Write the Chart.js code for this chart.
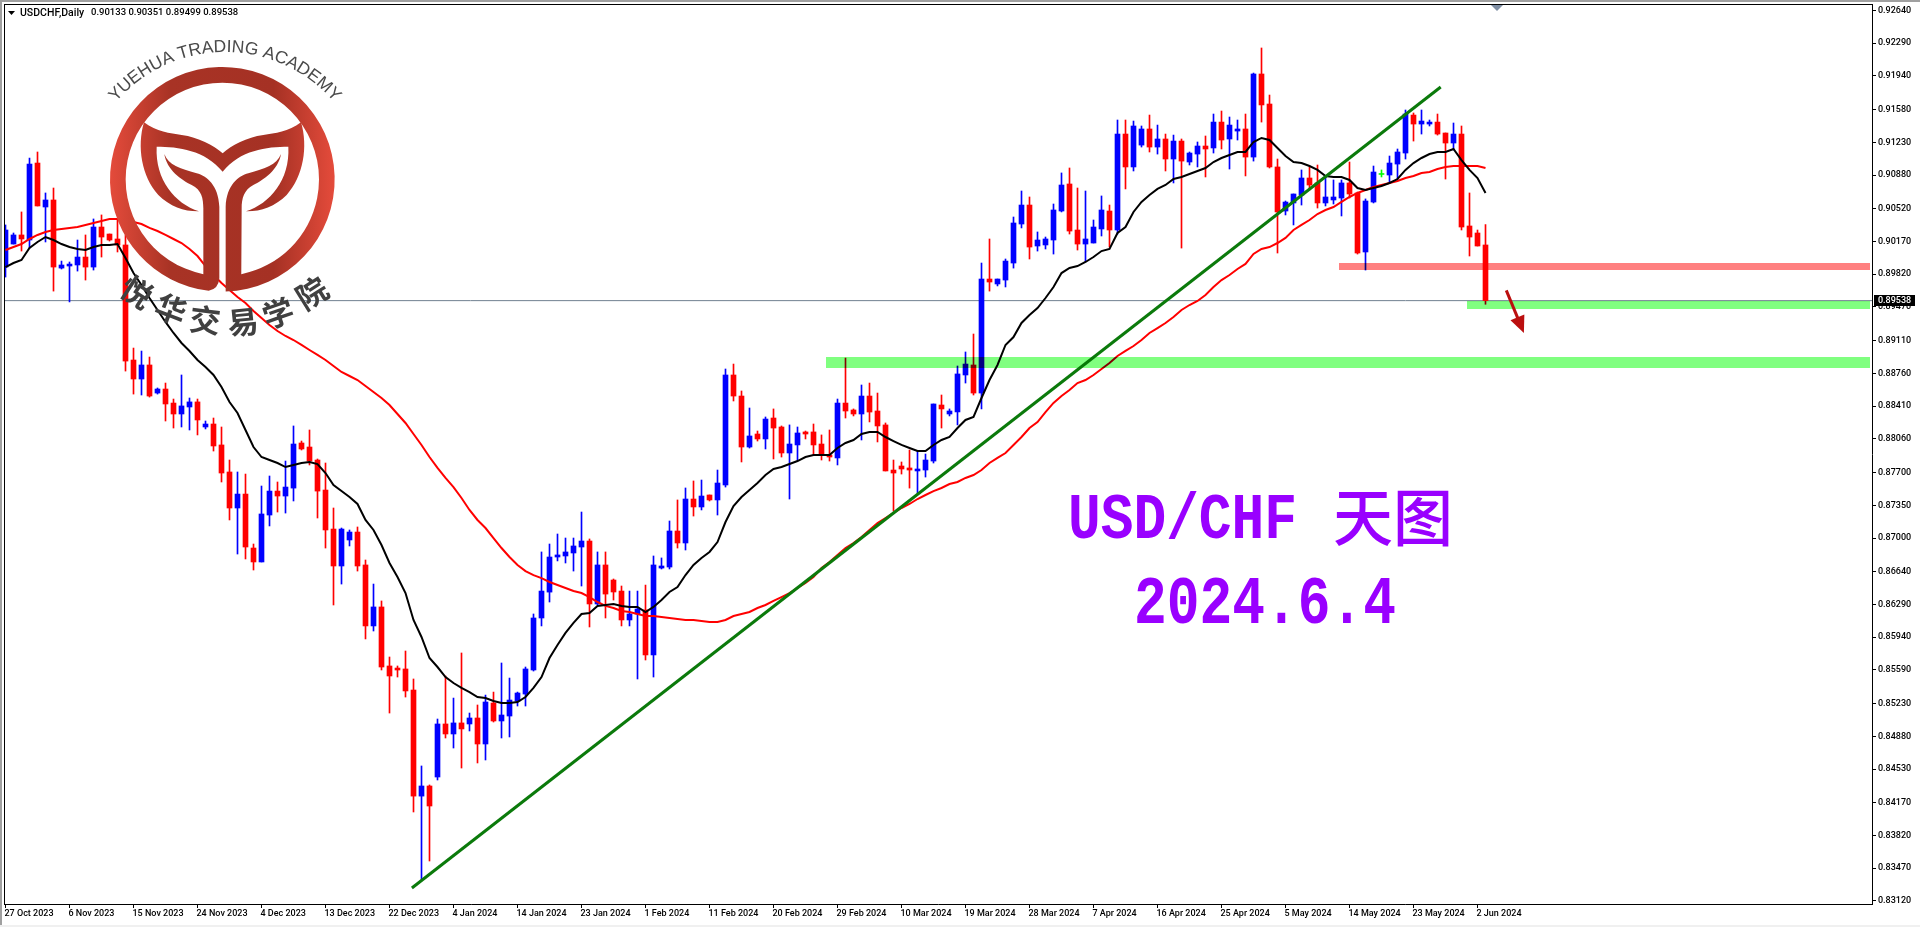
<!DOCTYPE html>
<html><head><meta charset="utf-8">
<style>html,body{margin:0;padding:0;background:#fff;overflow:hidden}canvas{display:block}</style>
<script src="https://cdn.jsdelivr.net/npm/chart.js@4"></script></head>
<body><canvas id="c" width="1920" height="927"></canvas>
<script>
const openPrices=[0.89897,0.90143,0.90240,0.90186,0.91009,0.90539,0.90614,0.89886,0.89908,0.89919,0.90004,0.89897,0.90325,0.90250,0.90197,0.90133,0.88903,0.88700,0.88850,0.88550,0.88593,0.88443,0.88326,0.88401,0.88455,0.88187,0.88219,0.87995,0.87706,0.87321,0.87470,0.86893,0.86744,0.87246,0.87502,0.87449,0.87534,0.88016,0.87973,0.87834,0.87513,0.87096,0.86701,0.86979,0.87064,0.86712,0.86060,0.86263,0.85632,0.85610,0.85600,0.85375,0.84241,0.84349,0.84445,0.85012,0.84905,0.85023,0.85012,0.85076,0.84798,0.85236,0.85044,0.85097,0.85257,0.85332,0.85589,0.86145,0.86422,0.86797,0.86808,0.86840,0.86904,0.86968,0.86295,0.86712,0.86551,0.86433,0.86124,0.86188,0.86231,0.85750,0.86679,0.86690,0.87075,0.86947,0.87417,0.87332,0.87460,0.87407,0.87567,0.88743,0.88518,0.87973,0.88112,0.88059,0.88283,0.88187,0.87909,0.87995,0.88134,0.88134,0.88005,0.87888,0.87856,0.88443,0.88369,0.88326,0.88518,0.88358,0.88209,0.87727,0.87770,0.87749,0.87717,0.87727,0.87823,0.88422,0.88326,0.88348,0.88743,0.88850,0.88550,0.89769,0.89716,0.89758,0.89940,0.90357,0.90560,0.90122,0.90133,0.90186,0.90496,0.90785,0.90293,0.90143,0.90154,0.90304,0.90496,0.90293,0.91319,0.90967,0.91201,0.91373,0.91180,0.91266,0.91052,0.91244,0.91020,0.91105,0.91191,0.91170,0.91447,0.91266,0.91351,0.91373,0.91073,0.91961,0.91640,0.90967,0.90496,0.90582,0.90667,0.90849,0.90796,0.90582,0.90614,0.90635,0.90796,0.90689,0.90058,0.90592,0.90892,0.90881,0.90998,0.91116,0.91522,0.91426,0.91426,0.91447,0.91330,0.91223,0.91319,0.90336,0.90261,0.90133];
const highPrices=[0.90347,0.90261,0.90486,0.91062,0.91127,0.90689,0.90742,0.89961,0.89951,0.90186,0.90240,0.90411,0.90454,0.90250,0.90400,0.90240,0.89031,0.88999,0.88935,0.88604,0.88657,0.88486,0.88743,0.88497,0.88486,0.88251,0.88283,0.88187,0.87834,0.87706,0.87684,0.86936,0.87556,0.87663,0.87599,0.87823,0.88198,0.88037,0.88155,0.87845,0.87802,0.87321,0.87107,0.87086,0.87118,0.86765,0.86508,0.86327,0.85728,0.85632,0.85792,0.85493,0.84563,0.84360,0.85065,0.85525,0.85289,0.85771,0.85129,0.85215,0.85321,0.85353,0.85664,0.85503,0.85353,0.85621,0.86188,0.86851,0.86936,0.87043,0.87000,0.87000,0.87278,0.86990,0.86851,0.86851,0.86562,0.86487,0.86433,0.86433,0.86497,0.86808,0.86787,0.87182,0.87407,0.87535,0.87610,0.87620,0.87460,0.87727,0.88807,0.88860,0.88572,0.88390,0.88144,0.88294,0.88380,0.88198,0.88209,0.88187,0.88144,0.88219,0.88102,0.88155,0.88486,0.88924,0.88380,0.88636,0.88657,0.88550,0.88230,0.87834,0.87813,0.87941,0.87930,0.87898,0.88433,0.88529,0.88380,0.88839,0.88989,0.89181,0.89940,0.90197,0.89769,0.89983,0.90432,0.90710,0.90646,0.90272,0.90218,0.90571,0.90903,0.90956,0.90742,0.90710,0.90400,0.90657,0.90560,0.91469,0.91469,0.91458,0.91405,0.91522,0.91415,0.91319,0.91308,0.91266,0.91127,0.91234,0.91298,0.91533,0.91565,0.91501,0.91469,0.91533,0.91971,0.92239,0.91736,0.91052,0.90603,0.90678,0.90935,0.90967,0.90988,0.90870,0.90828,0.90828,0.91020,0.90699,0.90625,0.90977,0.90935,0.91084,0.91159,0.91576,0.91544,0.91576,0.91469,0.91533,0.91330,0.91437,0.91405,0.90689,0.90293,0.90351];
const lowPrices=[0.89790,0.90143,0.90068,0.90100,0.90550,0.90165,0.89640,0.89876,0.89524,0.89854,0.89758,0.89865,0.90004,0.90175,0.90058,0.88785,0.88539,0.88529,0.88507,0.88539,0.88251,0.88176,0.88187,0.88155,0.88102,0.88166,0.87930,0.87599,0.87193,0.86829,0.86776,0.86658,0.86744,0.87129,0.87278,0.87267,0.87396,0.87941,0.87781,0.87214,0.86893,0.86284,0.86508,0.86915,0.86647,0.85921,0.86006,0.85589,0.85129,0.85514,0.85300,0.84071,0.83344,0.83547,0.84413,0.84862,0.84755,0.84541,0.84937,0.84595,0.84627,0.85033,0.84862,0.84873,0.85204,0.85204,0.85578,0.86060,0.86316,0.86755,0.86733,0.86647,0.86487,0.86049,0.86284,0.86145,0.86337,0.86060,0.86060,0.85493,0.85696,0.85514,0.86669,0.86669,0.86893,0.86872,0.87235,0.87300,0.87396,0.87246,0.87545,0.88465,0.87813,0.87962,0.88037,0.87952,0.87845,0.87866,0.87417,0.87834,0.88059,0.87888,0.87834,0.87823,0.87781,0.88283,0.88305,0.88048,0.88241,0.88027,0.87717,0.87289,0.87684,0.87534,0.87481,0.87652,0.87802,0.88176,0.88305,0.88209,0.88657,0.88529,0.88380,0.89640,0.89695,0.89684,0.89886,0.90315,0.89983,0.90068,0.90090,0.90036,0.90486,0.90250,0.90079,0.89951,0.90154,0.90229,0.90111,0.90250,0.90732,0.90924,0.91180,0.91127,0.91105,0.90924,0.90796,0.90100,0.90988,0.90967,0.90860,0.91116,0.91159,0.90945,0.91255,0.90871,0.91030,0.91447,0.90956,0.90047,0.90454,0.90347,0.90560,0.90721,0.90528,0.90550,0.90571,0.90443,0.90635,0.90036,0.89865,0.90582,0.90860,0.90796,0.90838,0.91052,0.91244,0.91319,0.91405,0.91308,0.90838,0.91148,0.90293,0.90015,0.90122,0.89499];
const closePrices=[0.90293,0.90240,0.90197,0.90998,0.90550,0.90614,0.89897,0.89919,0.89929,0.90004,0.89897,0.90325,0.90218,0.90186,0.90133,0.88892,0.88700,0.88850,0.88518,0.88593,0.88433,0.88326,0.88412,0.88455,0.88262,0.88219,0.87984,0.87695,0.87321,0.87470,0.86904,0.86744,0.87257,0.87502,0.87449,0.87545,0.88005,0.87952,0.87823,0.87502,0.87086,0.86701,0.87096,0.87064,0.86701,0.86060,0.86263,0.85621,0.85525,0.85589,0.85365,0.84241,0.84349,0.84135,0.85012,0.84905,0.85023,0.84959,0.85076,0.84798,0.85247,0.85044,0.85108,0.85268,0.85343,0.85600,0.86145,0.86433,0.86797,0.86819,0.86851,0.86915,0.86968,0.86295,0.86712,0.86401,0.86423,0.86124,0.86188,0.86241,0.85750,0.86712,0.86701,0.87075,0.86947,0.87417,0.87332,0.87449,0.87407,0.87588,0.88743,0.88518,0.87973,0.88091,0.88059,0.88272,0.88176,0.87909,0.88005,0.88123,0.88112,0.87995,0.87898,0.87866,0.88443,0.88358,0.88326,0.88518,0.88347,0.88198,0.87717,0.87695,0.87738,0.87727,0.87738,0.87834,0.88433,0.88380,0.88358,0.88754,0.88860,0.88550,0.89769,0.89737,0.89769,0.89961,0.90368,0.90560,0.90111,0.90186,0.90197,0.90507,0.90774,0.90282,0.90143,0.90197,0.90325,0.90507,0.90293,0.91319,0.90967,0.91405,0.91373,0.91180,0.91266,0.91052,0.91244,0.91030,0.91116,0.91191,0.91159,0.91447,0.91255,0.91415,0.91373,0.91073,0.91961,0.91630,0.90967,0.90486,0.90592,0.90678,0.90849,0.90774,0.90582,0.90646,0.90646,0.90796,0.90678,0.90047,0.90603,0.90913,0.90892,0.91009,0.91127,0.91533,0.91426,0.91458,0.91447,0.91319,0.91223,0.91319,0.90325,0.90218,0.90122,0.89538];
const blackMA=[0.89897,0.89940,0.89972,0.90100,0.90165,0.90218,0.90186,0.90143,0.90111,0.90090,0.90079,0.90111,0.90133,0.90133,0.90143,0.89993,0.89833,0.89705,0.89566,0.89438,0.89310,0.89192,0.89085,0.88999,0.88903,0.88828,0.88743,0.88614,0.88454,0.88337,0.88155,0.87973,0.87866,0.87834,0.87802,0.87759,0.87781,0.87802,0.87813,0.87791,0.87695,0.87567,0.87502,0.87438,0.87364,0.87193,0.87086,0.86925,0.86733,0.86583,0.86412,0.86124,0.85942,0.85717,0.85621,0.85514,0.85450,0.85397,0.85353,0.85300,0.85289,0.85257,0.85236,0.85236,0.85247,0.85300,0.85397,0.85514,0.85717,0.85856,0.85985,0.86092,0.86188,0.86199,0.86274,0.86284,0.86295,0.86274,0.86263,0.86263,0.86209,0.86263,0.86337,0.86423,0.86476,0.86604,0.86712,0.86787,0.86851,0.86957,0.87171,0.87342,0.87438,0.87513,0.87588,0.87674,0.87738,0.87759,0.87791,0.87823,0.87866,0.87888,0.87888,0.87888,0.87963,0.88016,0.88048,0.88112,0.88134,0.88134,0.88080,0.88037,0.87995,0.87963,0.87930,0.87930,0.87995,0.88048,0.88080,0.88176,0.88262,0.88294,0.88497,0.88689,0.88850,0.89064,0.89149,0.89299,0.89384,0.89459,0.89566,0.89684,0.89833,0.89887,0.89908,0.89951,0.90004,0.90068,0.90090,0.90261,0.90325,0.90486,0.90593,0.90667,0.90732,0.90774,0.90838,0.90860,0.90892,0.90924,0.90956,0.91020,0.91063,0.91095,0.91127,0.91127,0.91234,0.91277,0.91255,0.91170,0.91084,0.91020,0.91009,0.90977,0.90935,0.90870,0.90860,0.90860,0.90828,0.90742,0.90721,0.90742,0.90764,0.90796,0.90838,0.90935,0.91009,0.91063,0.91105,0.91127,0.91127,0.91159,0.91041,0.90935,0.90849,0.90689];
const redMA=[0.90079,0.90111,0.90143,0.90197,0.90240,0.90271,0.90293,0.90304,0.90315,0.90325,0.90347,0.90368,0.90389,0.90411,0.90411,0.90400,0.90379,0.90357,0.90315,0.90282,0.90240,0.90197,0.90154,0.90090,0.90015,0.89908,0.89812,0.89726,0.89651,0.89577,0.89513,0.89427,0.89352,0.89277,0.89213,0.89160,0.89117,0.89064,0.89010,0.88957,0.88903,0.88839,0.88775,0.88732,0.88689,0.88625,0.88561,0.88497,0.88422,0.88326,0.88230,0.88112,0.87995,0.87866,0.87749,0.87642,0.87545,0.87428,0.87300,0.87193,0.87107,0.87000,0.86893,0.86797,0.86712,0.86647,0.86604,0.86572,0.86530,0.86498,0.86466,0.86434,0.86412,0.86369,0.86316,0.86274,0.86252,0.86220,0.86209,0.86188,0.86166,0.86166,0.86156,0.86145,0.86134,0.86124,0.86124,0.86113,0.86102,0.86102,0.86124,0.86166,0.86188,0.86209,0.86252,0.86284,0.86327,0.86369,0.86412,0.86466,0.86519,0.86583,0.86679,0.86744,0.86819,0.86893,0.86947,0.87011,0.87086,0.87161,0.87214,0.87268,0.87321,0.87364,0.87417,0.87460,0.87502,0.87535,0.87577,0.87599,0.87642,0.87674,0.87727,0.87802,0.87856,0.87909,0.87995,0.88080,0.88176,0.88240,0.88347,0.88444,0.88518,0.88582,0.88657,0.88689,0.88743,0.88807,0.88871,0.88946,0.89000,0.89053,0.89117,0.89192,0.89245,0.89299,0.89363,0.89438,0.89491,0.89534,0.89598,0.89684,0.89758,0.89812,0.89876,0.89930,0.90037,0.90090,0.90111,0.90154,0.90208,0.90293,0.90347,0.90400,0.90464,0.90507,0.90539,0.90593,0.90646,0.90689,0.90721,0.90753,0.90774,0.90796,0.90817,0.90849,0.90870,0.90903,0.90913,0.90945,0.90967,0.90977,0.90977,0.90977,0.90977,0.90956];
const xTickIndex=[0,8,16,24,32,40,48,56,64,72,80,88,96,104,112,120,128,136,144,152,160,168,176,184];
const xTickLabels=["27 Oct 2023","6 Nov 2023","15 Nov 2023","24 Nov 2023","4 Dec 2023","13 Dec 2023","22 Dec 2023","4 Jan 2024","14 Jan 2024","23 Jan 2024","1 Feb 2024","11 Feb 2024","20 Feb 2024","29 Feb 2024","10 Mar 2024","19 Mar 2024","28 Mar 2024","7 Apr 2024","16 Apr 2024","25 Apr 2024","5 May 2024","14 May 2024","23 May 2024","2 Jun 2024"];
const yTickLabels=["0.92640","0.92290","0.91940","0.91580","0.91230","0.90880","0.90520","0.90170","0.89820","0.89470","0.89110","0.88760","0.88410","0.88060","0.87700","0.87350","0.87000","0.86640","0.86290","0.85940","0.85590","0.85230","0.84880","0.84530","0.84170","0.83820","0.83470","0.83120"];
const trendIndex=[50.8,179.4];
const trendPrice=[0.83258,0.91822];
const lastPrice=0.89538;
const headerText="USDCHF,Daily  0.90133 0.90351 0.89499 0.89538";
const zones=[{from:102.56,to:233.06,hi:0.88935,lo:0.88818,color:"#80ff80"},{from:166.7,to:233.06,hi:0.89940,lo:0.89865,color:"#ff8080"},{from:182.7,to:233.06,hi:0.89534,lo:0.89449,color:"#80ff80"}];
const arrowIndex=[187.6,189.8];
const arrowPrice=[0.89648,0.89192];

const FONT='Roboto';
const UP='#0000ff',DOWN='#ff0000',DOJI='#00ff00';
const col=openPrices.map((o,i)=>closePrices[i]>o?UP:closePrices[i]<o?DOWN:DOJI);
const wicks=openPrices.map((o,i)=>({x:i,y:[lowPrices[i],highPrices[i]]}));
const bodies=openPrices.map((o,i)=>{const a=o,b=closePrices[i];return {x:i,y:a===b?[a-0.00005,a+0.00005]:[Math.min(a,b),Math.max(a,b)]};});
const pts=a=>a.map((v,i)=>({x:i,y:v}));
const noPad=s=>{s.paddingTop=0;s.paddingBottom=0;s.paddingLeft=0;s.paddingRight=0;};

function logo(ctx){
  const Z=3,c={x:667/Z,y:538/Z},R=337/Z,r=290/Z,p=(x,y)=>[x/Z,y/Z];
  const g=ctx.createLinearGradient(110,0,334,0);
  g.addColorStop(0,'#e44b3b');g.addColorStop(.27,'#a83325');g.addColorStop(.73,'#a53124');g.addColorStop(1,'#e44b3b');
  ctx.save();ctx.fillStyle=g;
  const deg=Math.PI/180;
  ctx.beginPath();
  ctx.arc(c.x,c.y,R,88.3*deg,97*deg,true);
  ctx.quadraticCurveTo(...p(655,868),...p(658,835));
  ctx.lineTo(...p(658,620));
  ctx.bezierCurveTo(...p(655,555),...p(620,528),...p(590,520));
  ctx.bezierCurveTo(...p(540,505),...p(505,495),...p(493,462));
  ctx.bezierCurveTo(...p(500,510),...p(545,540),...p(575,555));
  ctx.bezierCurveTo(...p(605,570),...p(610,595),...p(610,625));
  ctx.lineTo(...p(610,825));
  ctx.arc(c.x,c.y,r,101.3*deg,78.7*deg,false);
  ctx.lineTo(...p(725,625));
  ctx.bezierCurveTo(...p(725,595),...p(732,570),...p(760,555));
  ctx.bezierCurveTo(...p(790,540),...p(835,510),...p(843,462));
  ctx.bezierCurveTo(...p(830,495),...p(795,505),...p(745,520));
  ctx.bezierCurveTo(...p(715,528),...p(680,555),...p(677,620));
  ctx.closePath();ctx.fill();
  ctx.beginPath();
  ctx.moveTo(...p(432,367));
  ctx.bezierCurveTo(...p(470,395),...p(510,400),...p(545,405));
  ctx.bezierCurveTo(...p(595,412),...p(640,435),...p(668,460));
  ctx.bezierCurveTo(...p(695,435),...p(740,412),...p(790,405));
  ctx.bezierCurveTo(...p(825,400),...p(865,395),...p(903,367));
  ctx.bezierCurveTo(...p(925,440),...p(910,530),...p(860,585));
  ctx.bezierCurveTo(...p(825,620),...p(780,635),...p(738,634));
  ctx.bezierCurveTo(...p(810,610),...p(870,540),...p(865,440));
  ctx.bezierCurveTo(...p(800,440),...p(720,450),...p(668,515));
  ctx.bezierCurveTo(...p(615,450),...p(535,440),...p(470,440));
  ctx.bezierCurveTo(...p(465,540),...p(525,610),...p(597,634));
  ctx.bezierCurveTo(...p(555,635),...p(510,620),...p(475,585));
  ctx.bezierCurveTo(...p(425,530),...p(410,440),...p(432,367));
  ctx.closePath();ctx.fill();
  // arc text
  const txt='YUEHUA TRADING ACADEMY';
  ctx.fillStyle='#4a4a4a';ctx.font='17.5px "Liberation Sans"';ctx.textAlign='left';ctx.textBaseline='alphabetic';
  const cx=225,cy=196,rad=144;
  const total=ctx.measureText(txt).width;
  let a=-Math.PI/2-total/2/rad;
  for(const ch of txt){
    const w=ctx.measureText(ch).width;
    ctx.save();ctx.translate(cx+rad*Math.cos(a+w/2/rad),cy+rad*Math.sin(a+w/2/rad));ctx.rotate(a+w/2/rad+Math.PI/2);
    ctx.fillText(ch,-w/2,0);ctx.restore();a+=w/rad;
  }
  // Chinese text
  const cn=[['悦',137,292,33],['华',171,309,21],['交',205,320,7],['易',243,322,-6],['学',278,313,-19],['院',312,293,-32]];
  ctx.fillStyle='#404040';ctx.font='bold 31px "Noto Sans CJK SC"';ctx.textAlign='center';ctx.textBaseline='middle';
  for(const [t,x,y,ro] of cn){ctx.save();ctx.translate(x,y);ctx.rotate(ro*deg);ctx.fillText(t,0,0);ctx.restore();}
  ctx.restore();
}

const deco={id:'deco',
 beforeDraw(ch){const c=ch.ctx;c.save();c.fillStyle='#fff';c.fillRect(0,0,1920,927);c.restore();},
 afterDatasetsDraw(ch){
  const c=ch.ctx,X=ch.scales.x,Y=ch.scales.y;
  c.save();c.beginPath();c.rect(ch.chartArea.left,ch.chartArea.top,ch.chartArea.width,ch.chartArea.height);c.clip();
  c.globalCompositeOperation='multiply';
  for(const z of zones){
    const x0=Math.round(X.getPixelForValue(z.from)),x1=Math.round(X.getPixelForValue(z.to));
    const y0=Math.round(Y.getPixelForValue(z.hi)),y1=Math.round(Y.getPixelForValue(z.lo));
    c.fillStyle=z.color;c.fillRect(x0,y0,x1-x0,y1-y0);
  }
  c.restore();
  // arrow
  const ax=X.getPixelForValue(arrowIndex[0]),ay=Y.getPixelForValue(arrowPrice[0]),bx=X.getPixelForValue(arrowIndex[1]),by=Y.getPixelForValue(arrowPrice[1]);
  const ang=Math.atan2(by-ay,bx-ax);
  c.save();c.strokeStyle='#bb0f0f';c.fillStyle='#bb0f0f';c.lineWidth=3;
  c.beginPath();c.moveTo(ax,ay);c.lineTo(bx-12*Math.cos(ang),by-12*Math.sin(ang));c.stroke();
  c.beginPath();c.moveTo(bx,by);
  c.lineTo(bx-17*Math.cos(ang)+7.5*Math.sin(ang),by-17*Math.sin(ang)-7.5*Math.cos(ang));
  c.lineTo(bx-17*Math.cos(ang)-7.5*Math.sin(ang),by-17*Math.sin(ang)+7.5*Math.cos(ang));
  c.closePath();c.fill();c.restore();
 },
 afterDraw(ch){
  const c=ch.ctx,Y=ch.scales.y;
  c.save();
  // window edge and frame
  c.fillStyle='#a0a0a0';c.fillRect(0,0,1920,2);c.fillRect(0,0,2,925);
  c.fillStyle='#f0f0f0';c.fillRect(0,925,1920,2);
  c.fillStyle='#000';c.fillRect(4,4,1869,1);c.fillRect(4,4,1,901);
  // chart-shift marker
  c.fillStyle='#7f8ea3';c.beginPath();c.moveTo(1491,5);c.lineTo(1503,5);c.lineTo(1497,11);c.closePath();c.fill();
  // header
  c.fillStyle='#000';c.beginPath();c.moveTo(8,11);c.lineTo(15,11);c.lineTo(11.5,15);c.closePath();c.fill();
  c.textAlign='left';c.textBaseline='middle';c.fillStyle='#000';
  c.font='500 10.5px '+FONT;
  c.fillText(headerText.split('  ')[0],20,13);
  c.font='500 9.5px '+FONT;
  c.fillText(headerText.split('  ')[1],91,13);
  // price tag
  const py=Math.round(Y.getPixelForValue(lastPrice));
  c.fillStyle='#000';c.fillRect(1874,py-6,41,11);
  c.fillStyle='#fff';c.font='500 9px '+FONT;c.fillText(lastPrice.toFixed(5),1878,py);
  // caption
  c.fillStyle='#9900ff';c.textBaseline='alphabetic';
  c.font='bold 65px "Liberation Mono"';
  c.fillText('USD/CHF',1068,538,229);
  c.font='500 62px "Noto Sans CJK SC"';
  c.fillText('天图',1333,541,120);
  c.font='bold 68px "Liberation Mono"';
  c.fillText('2024.6.4',1134,623,262);
  logo(c);
  c.restore();
 }};

new Chart(document.getElementById('c'),{
 type:'bar',
 plugins:[deco],
 data:{datasets:[
  {type:'line',data:trendIndex.map((x,i)=>({x,y:trendPrice[i]})),borderColor:'#0b7a0b',borderWidth:3,pointRadius:0,tension:0,order:0},
  {type:'line',data:pts(blackMA),borderColor:'#000',borderWidth:2,pointRadius:0,tension:0,order:1},
  {type:'line',data:pts(redMA),borderColor:'#ff0000',borderWidth:2,pointRadius:0,tension:0,order:2},
  {type:'bar',data:bodies,backgroundColor:col,maxBarThickness:5,grouped:false,borderWidth:0,barPercentage:1,categoryPercentage:1,order:3},
  {type:'bar',data:wicks,backgroundColor:col,maxBarThickness:1,grouped:false,borderWidth:0,barPercentage:1,categoryPercentage:1,order:4},
  {type:'line',data:[{x:-1,y:lastPrice},{x:234,y:lastPrice}],borderColor:'#708090',borderWidth:1,pointRadius:0,order:5}
 ]},
 options:{responsive:false,animation:false,devicePixelRatio:1,
  layout:{padding:{left:4,top:4,right:0,bottom:0}},
  plugins:{legend:{display:false},tooltip:{enabled:false}},
  scales:{
   x:{type:'linear',offset:false,min:(4-5.5)/8,max:(1872-5.5)/8,
     afterBuildTicks(s){s.ticks=xTickIndex.map(v=>({value:v}));},
     afterFit(s){s.height=23;noPad(s);},
     grid:{display:true,drawOnChartArea:false,drawTicks:true,tickLength:4,color:'#000',offset:false},
     border:{display:true,color:'#000'},
     ticks:{autoSkip:false,maxRotation:0,minRotation:0,align:'start',padding:0,labelOffset:-1,color:'#000',font:{family:FONT,size:9,weight:'500'},
       callback(v){const k=xTickIndex.indexOf(v);return k<0?'':xTickLabels[k];}}},
   y:{type:'linear',position:'right',min:0.8308734,max:0.9270924,
     afterBuildTicks(s){s.ticks=yTickLabels.map(v=>({value:parseFloat(v)}));},
     afterFit(s){s.width=48;noPad(s);},
     grid:{display:true,drawOnChartArea:false,drawTicks:true,tickLength:4,color:'#000'},
     border:{display:true,color:'#000'},
     ticks:{autoSkip:false,padding:2,color:'#000',font:{family:FONT,size:9,weight:'500'},
       callback(v){return v.toFixed(5);}}}
  }}
});
</script></body></html>
